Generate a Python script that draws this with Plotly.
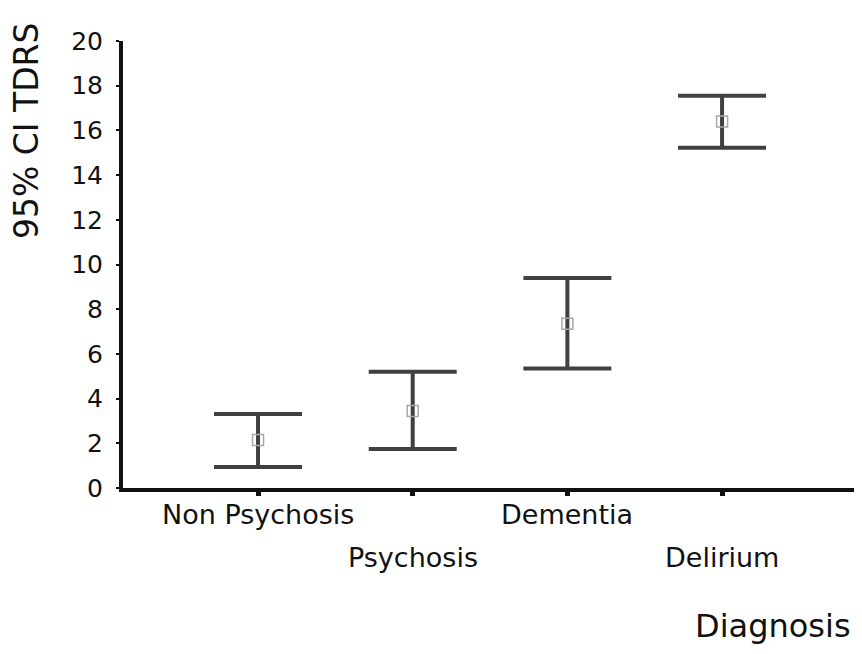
import plotly.graph_objects as go

categories = ["Non Psychosis", "Psychosis", "Dementia", "Delirium"]
means = [2.15, 3.44, 7.35, 16.4]
lower = [0.94, 1.75, 5.35, 15.22]
upper = [3.31, 5.2, 9.4, 17.55]
y_ticks = [0, 2, 4, 6, 8, 10, 12, 14, 16, 18, 20]
x_title = "Diagnosis"
y_title = "95% CI TDRS"

FONT = "DejaVu Sans"
INK = "#111"
plus = [u - m for u, m in zip(upper, means)]
minus = [m - l for m, l in zip(means, lower)]

fig = go.Figure()
fig.add_trace(go.Scatter(
    x=categories, y=means, mode="markers",
    marker=dict(symbol="square-open", size=11, color="#a8a8a8", line=dict(width=1.5)),
    error_y=dict(type="data", symmetric=False, array=plus, arrayminus=minus,
                 thickness=4, width=44, color="#404040"),
    showlegend=False,
))

label_y = [-0.06, -0.155]
for i, c in enumerate(categories):
    fig.add_annotation(x=c, xref="x", y=label_y[i % 2], yref="paper",
                       text=c, showarrow=False, yanchor="middle", xanchor="center",
                       font=dict(family=FONT, size=27, color=INK))

fig.add_annotation(x=0.998, xref="paper", y=-0.309, yref="paper", text=x_title,
                   showarrow=False, xanchor="right", yanchor="middle",
                   font=dict(family=FONT, size=32, color=INK))
fig.add_annotation(x=-0.131, xref="paper", y=0.799, yref="paper", text=y_title,
                   textangle=-90, showarrow=False, xanchor="center", yanchor="middle",
                   font=dict(family=FONT, size=33, color=INK))

fig.update_xaxes(type="category", categoryorder="array", categoryarray=categories,
                 range=[-0.873, 3.853], showticklabels=False, showgrid=False, zeroline=False,
                 showline=True, linecolor=INK, linewidth=4,
                 ticks="outside", ticklen=4, tickwidth=5, tickcolor=INK)
fig.update_yaxes(range=[0, 20], tickvals=y_ticks, showgrid=False, zeroline=False,
                 showline=True, linecolor=INK, linewidth=4,
                 ticks="outside", ticklen=3, tickwidth=2, tickcolor=INK,
                 tickfont=dict(family=FONT, size=25, color=INK), ticklabelstandoff=8)

# the page body has an 8px default margin; size the figure to fit the window
fig.update_layout(width=846, height=638, margin=dict(l=115, r=0, t=33, b=158),
                  plot_bgcolor="white", paper_bgcolor="white")
fig.write_html("out.html")
